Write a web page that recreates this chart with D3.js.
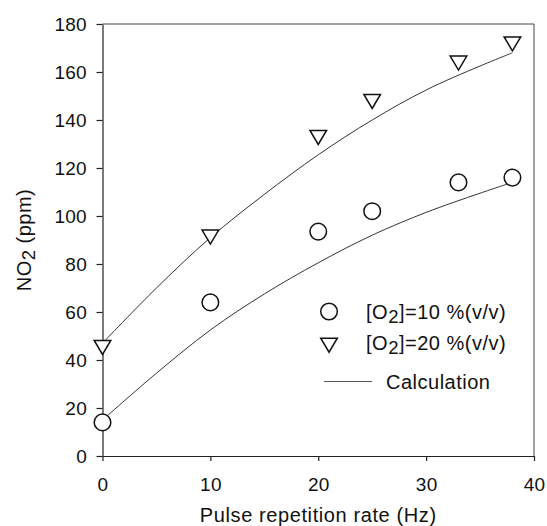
<!DOCTYPE html>
<html>
<head>
<meta charset="utf-8">
<script src="https://cdn.jsdelivr.net/npm/d3@7"></script>
<style>
  body { margin: 0; background: #fff; }
  svg text { font-family: "Liberation Sans", Arial, sans-serif; fill: #111; }
</style>
</head>
<body>
<div id="chart"></div>
<script>
// pulse repetition rate (Hz)
var rates = [0, 10, 20, 25, 33, 38]
// measured NO2 (ppm)
var no2At10 = [14, 64, 93.5, 102, 114, 116]
var no2At20 = [45.5, 91.5, 133, 148, 164, 172]

// calculated curves
var calcRates = [0, 5, 10, 15, 20, 25, 30, 35, 38]
var calcAt10 = [15, 34.5, 52.5, 67.5, 80.5, 92, 101.5, 109.5, 114]
var calcAt20 = [47, 70, 91, 109, 125.5, 140, 152.5, 162.5, 168]

var xTicks = [0, 10, 20, 30, 40]
var yTicks = [0, 20, 40, 60, 80, 100, 120, 140, 160, 180]

var margin = { top: 24, right: 13, bottom: 70, left: 102.5 }
var width = 547 - margin.left - margin.right,
    height = 526 - margin.top - margin.bottom

var svg = d3.select("#chart").append("svg")
  .attr("width", 547)
  .attr("height", 526)
  .append("g")
  .attr("transform", "translate(" + margin.left + "," + margin.top + ")")

var x = d3.scaleLinear().domain([0, 40]).range([0, width])
var y = d3.scaleLinear().domain([0, 180]).range([height, 0])

// frame (top and right)
svg.append("path")
  .attr("d", "M0,0H" + width + "V" + height)
  .attr("fill", "none")
  .attr("stroke", "#444")
  .attr("stroke-width", 1)

var xAxis = svg.append("g")
  .attr("transform", "translate(0," + height + ")")
  .call(d3.axisBottom(x).tickValues(xTicks).tickSize(5).tickPadding(17).tickSizeOuter(0))
var yAxis = svg.append("g")
  .call(d3.axisLeft(y).tickValues(yTicks).tickSize(6).tickPadding(9.5).tickSizeOuter(0))

;[xAxis, yAxis].forEach(function (g) {
  g.select(".domain").attr("stroke", "#222").attr("stroke-width", 1.2)
  g.selectAll(".tick line").attr("stroke", "#222").attr("stroke-width", 1.2)
  g.selectAll(".tick text")
    .attr("font-size", 19)
    .attr("letter-spacing", 0.3)
    .attr("font-family", "Liberation Sans, Arial, sans-serif")
    .attr("fill", "#111")
})
yAxis.selectAll(".tick text").attr("dy", "0.36em")

// calculation curves
var line = d3.line()
  .x(function (d) { return x(d[0]) })
  .y(function (d) { return y(d[1]) })
  .curve(d3.curveCatmullRom)

;[calcAt10, calcAt20].forEach(function (vals) {
  svg.append("path")
    .datum(calcRates.map(function (r, i) { return [r, vals[i]] }))
    .attr("d", line)
    .attr("fill", "none")
    .attr("stroke", "#333")
    .attr("stroke-width", 1)
})

function triPath(cx, cy) {
  var w = 8.3, h = 14
  return "M" + (cx - w) + "," + (cy - h * 0.45) + "L" + (cx + w) + "," + (cy - h * 0.45) +
    "L" + cx + "," + (cy + h * 0.55) + "Z"
}

svg.selectAll(".c10")
  .data(rates)
  .enter().append("circle")
  .attr("class", "c10")
  .attr("cx", function (d) { return x(d) })
  .attr("cy", function (d, i) { return y(no2At10[i]) })
  .attr("r", 8.3)
  .attr("fill", "#fff")
  .attr("stroke", "#111")
  .attr("stroke-width", 1.5)

svg.selectAll(".t20")
  .data(rates)
  .enter().append("path")
  .attr("class", "t20")
  .attr("d", function (d, i) { return triPath(x(d), y(no2At20[i])) })
  .attr("fill", "#fff")
  .attr("stroke", "#111")
  .attr("stroke-width", 1.5)
  .attr("stroke-linejoin", "miter")

// legend
var leg = svg.append("g").attr("transform", "translate(" + (x(21)) + "," + (y(60.2)) + ")")
leg.append("circle").attr("cx", 0).attr("cy", 0).attr("r", 8.3)
  .attr("fill", "#fff").attr("stroke", "#111").attr("stroke-width", 1.5)
leg.append("path").attr("d", triPath(0, 33))
  .attr("fill", "#fff").attr("stroke", "#111").attr("stroke-width", 1.5)
leg.append("line").attr("x1", -5).attr("x2", 43).attr("y1", 70).attr("y2", 70)
  .attr("stroke", "#555").attr("stroke-width", 1)

var legLabels = ["10", "20"]
legLabels.forEach(function (v, i) {
  var t = leg.append("text").attr("x", 37).attr("y", 7.5 + i * 31)
    .attr("font-size", 20).attr("letter-spacing", 0.5)
  t.append("tspan").text("[O")
  t.append("tspan").attr("dy", 4).attr("font-size", 18.5).text("2")
  t.append("tspan").attr("dy", -4).text("]=" + v + " %(v/v)")
})
leg.append("text").attr("x", 57).attr("y", 77).attr("font-size", 20)
  .attr("letter-spacing", 0.5).text("Calculation")

// axis titles
svg.append("text")
  .attr("x", width / 2)
  .attr("y", height + 66.3)
  .attr("text-anchor", "middle")
  .attr("font-size", 20)
  .attr("letter-spacing", 0.6)
  .text("Pulse repetition rate (Hz)")

var yl = svg.append("text")
  .attr("transform", "translate(" + (-72) + "," + (height / 2) + ") rotate(-90)")
  .attr("text-anchor", "middle")
  .attr("font-size", 20)
  .attr("letter-spacing", 0.5)
yl.append("tspan").text("NO")
yl.append("tspan").attr("dy", 4).attr("font-size", 18.5).text("2")
yl.append("tspan").attr("dy", -4).text(" (ppm)")
</script>
</body>
</html>
